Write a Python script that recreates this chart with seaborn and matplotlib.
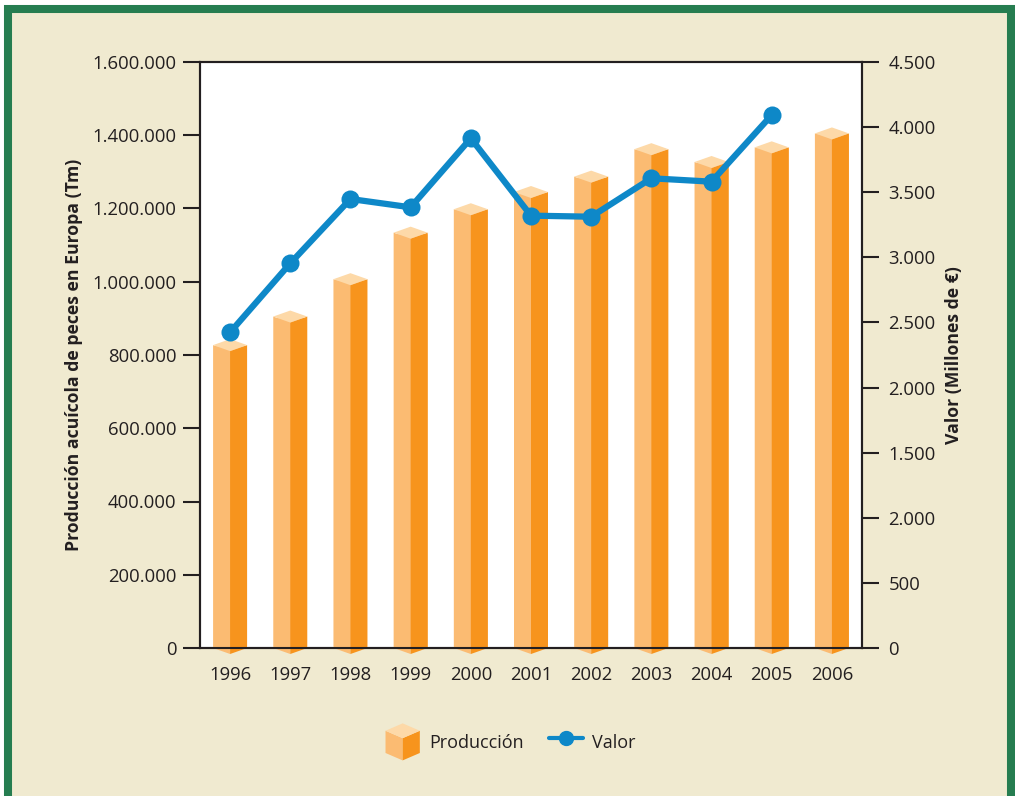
import numpy as np
import pandas as pd
import matplotlib
matplotlib.use("Agg")
import matplotlib.pyplot as plt
import seaborn as sns
from matplotlib.patches import Polygon, Rectangle
from matplotlib.lines import Line2D
from matplotlib.legend_handler import HandlerBase
from matplotlib.ticker import FixedLocator, FixedFormatter, FuncFormatter

# datos
years = ["1996", "1997", "1998", "1999", "2000", "2001",
         "2002", "2003", "2004", "2005", "2006"]
produccion = [827000, 905000, 1007000, 1134000, 1198000, 1245000,
              1287000, 1362000, 1327000, 1367000, 1405000]
valor = [2424, 2954, 3448, 3384, 3914, 3320, 3312, 3607, 3581, 4093, np.nan]

right_ticks = [0, 500, 1000, 1500, 2000, 2500, 3000, 3500, 4000, 4500]
right_labels = ["0", "500", "2.000", "1.500", "2.000", "2.500",
                "3.000", "3.500", "4.000", "4.500"]

# colores
c_light = "#FBBB72"
c_dark = "#F7941D"
c_top = "#FDD9A8"
c_line = "#0E88C8"
c_text = "#231F20"
c_bg = "#F0EAD0"
c_frame = "#267D50"

df = pd.DataFrame({"year": years, "produccion": produccion, "valor": valor})
df["pos"] = np.arange(len(years))

sns.set_style("white")
plt.rcParams["font.family"] = ["Open Sans", "DejaVu Sans"]
plt.rcParams["text.color"] = c_text
plt.rcParams["axes.labelcolor"] = c_text
plt.rcParams["xtick.color"] = c_text
plt.rcParams["ytick.color"] = c_text

fig = plt.figure(figsize=(10.15, 7.96), dpi=100, facecolor="white")

# marco verde y fondo beige
fig.patches.append(Rectangle((8 / 1015, -10 / 796), 1003 / 1015, 797 / 796,
                             transform=fig.transFigure, facecolor=c_bg,
                             edgecolor=c_frame, linewidth=5.8, zorder=-10))

ax = fig.add_axes([200 / 1015, 1 - 648 / 796, 662 / 1015, 586 / 796])
ax.set_facecolor("white")

W = 0.565
D = 16400  # profundidad del "3D" en unidades de datos

sns.barplot(data=df, x="year", y="produccion", order=years, color=c_light,
            width=W, saturation=1, ax=ax, zorder=3)

for i, v in enumerate(produccion):
    left = [(i - W / 2, v), (i, v - D), (i, -D), (i - W / 2, 0)]
    right = [(i, v - D), (i + W / 2, v), (i + W / 2, 0), (i, -D)]
    top = [(i - W / 2, v), (i, v + D), (i + W / 2, v), (i, v - D)]
    ax.add_patch(Polygon(left, closed=True, facecolor=c_light, edgecolor="none",
                         zorder=3, clip_on=False))
    ax.add_patch(Polygon(right, closed=True, facecolor=c_dark, edgecolor="none",
                         zorder=3, clip_on=False))
    ax.add_patch(Polygon(top, closed=True, facecolor=c_top, edgecolor="none",
                         zorder=3, clip_on=False))

ax.set_xlim(-0.5, len(years) - 0.5)
ax.set_ylim(0, 1600000)
ax.yaxis.set_major_locator(FixedLocator(np.arange(0, 1600001, 200000)))
ax.yaxis.set_major_formatter(FuncFormatter(lambda v, p: f"{v:,.0f}".replace(",", ".")))
ax.tick_params(axis="y", direction="out", length=12, width=1.5, labelsize=13.3, pad=5)
ax.tick_params(axis="x", which="major", length=0, labelsize=13.3, pad=13)
ax.set_xticks([-0.5, len(years) - 0.5], minor=True)
ax.tick_params(axis="x", which="minor", direction="out", length=12, width=1.5)
ax.set_xlabel("")
ax.set_ylabel("Producción acuícola de peces en Europa (Tm)", fontsize=12.7,
              fontweight="bold", labelpad=7)
for s in ax.spines.values():
    s.set_color(c_text)
    s.set_linewidth(1.5)

# eje derecho: valor
ax2 = ax.twinx()
sns.lineplot(data=df, x="pos", y="valor", ax=ax2, color=c_line, linewidth=4.5,
             marker="o", markersize=13, markeredgewidth=0, zorder=5)
ax2.set_ylim(0, 4500)
ax2.set_xlim(-0.5, len(years) - 0.5)
ax2.yaxis.set_major_locator(FixedLocator(right_ticks))
ax2.yaxis.set_major_formatter(FixedFormatter(right_labels))
ax2.tick_params(axis="y", direction="out", length=12, width=1.5, labelsize=13.3, pad=7)
ax2.set_xlabel("")
ax2.set_ylabel("Valor (Millones de €)", fontsize=12.7, fontweight="bold",
               rotation=90, labelpad=7)
for s in ax2.spines.values():
    s.set_color(c_text)
    s.set_linewidth(1.5)


class CubeHandler(HandlerBase):
    def create_artists(self, legend, orig_handle, xdescent, ydescent,
                       width, height, fontsize, trans):
        w = width
        h = width * 1.08
        x0 = -xdescent
        y0 = -ydescent + height / 2 - h / 2
        d = 0.2 * h
        faces = [
            ([(0, d), (w / 2, 0), (w / 2, h - 2 * d), (0, h - d)], c_light),
            ([(w / 2, 0), (w, d), (w, h - d), (w / 2, h - 2 * d)], c_dark),
            ([(0, h - d), (w / 2, h), (w, h - d), (w / 2, h - 2 * d)], c_top),
        ]
        arts = []
        for pts, col in faces:
            p = Polygon([(x0 + a, y0 + b) for a, b in pts], closed=True,
                        facecolor=col, edgecolor="none", transform=trans)
            arts.append(p)
        return arts


cube = Rectangle((0, 0), 1, 1)
line_h = Line2D([], [], color=c_line, linewidth=3, marker="o", markersize=10)
fig.legend([cube, line_h], ["Producción", "Valor"],
           handler_map={Rectangle: CubeHandler()},
           loc="center", bbox_to_anchor=(0.503, 0.068), ncol=2, frameon=False,
           fontsize=13, handlelength=1.9, handleheight=2.0,
           columnspacing=1.4, handletextpad=0.5)

fig.savefig("out.png", dpi=100)
